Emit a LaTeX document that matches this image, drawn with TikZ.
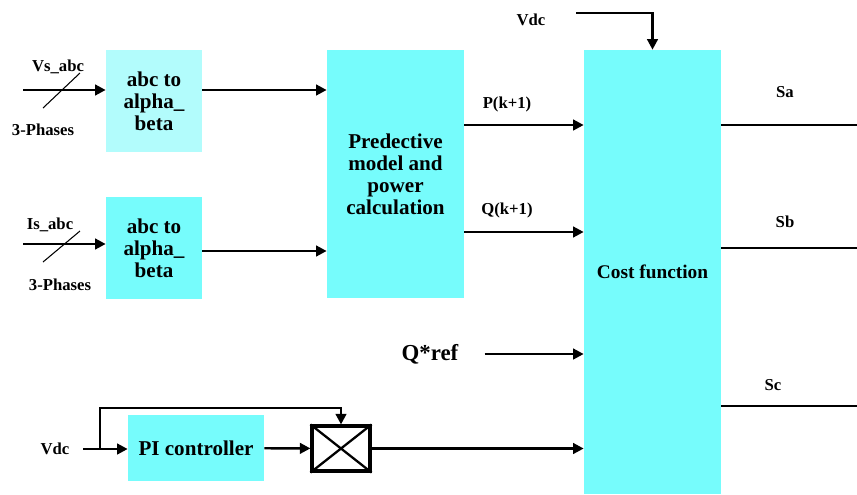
\documentclass[tikz,border=0pt]{standalone}
\usepackage{fontspec}
\setmainfont{Liberation Serif}
\usetikzlibrary{positioning, calc, arrows.meta}
\definecolor{cyanbox}{RGB}{118,252,252}
\definecolor{lightcyanbox}{RGB}{178,252,252}
\tikzset{
	blockbox/.style={rectangle, fill=cyanbox, align=center, font=\fontsize{12}{12.5}\selectfont\bfseries},
	lbl/.style={font=\fontsize{9.5}{11}\selectfont\bfseries},
	sig/.style={line width=1.4pt, -{Triangle[length=6pt,width=6pt]}},
	wire/.style={line width=1.4pt}
}

\begin{document}
\begin{tikzpicture}[x=0.02cm, y=-0.02cm]
      \useasboundingbox (0,0) rectangle (857,494);
      % blocks
      \node[blockbox, fill=lightcyanbox, minimum width=1.92cm, minimum height=2.06cm] (abcV) at (154,101) {abc to\\alpha\_\\beta};
      \node[blockbox, minimum width=1.92cm, minimum height=2.04cm] (abcI) at (154,248) {abc to\\alpha\_\\beta};
      \node[blockbox, minimum width=2.74cm, minimum height=4.96cm] (pred) at (395.5,174) {Predective\\model and\\power\\calculation};
      \node[blockbox, font=\fontsize{11}{12}\selectfont\bfseries, minimum width=2.74cm, minimum height=8.88cm] (cost) at (652.5,272) {Cost function};
      \node[blockbox, minimum width=2.72cm, minimum height=1.32cm] (pi) at (196,448) {PI controller};
      \node[draw, line width=1.8pt, minimum width=1.16cm, minimum height=0.9cm] (mult) at (341,448.5) {};
      \draw[line width=1.3pt] (mult.north west) -- (mult.south east) (mult.north east) -- (mult.south west);
      % labels
      \node[lbl] (vsLbl) at (58,67) {Vs\_abc};
      \node[lbl] (vsPh) at (43,130) {3-Phases};
      \node[lbl] (isLbl) at (50,225) {Is\_abc};
      \node[lbl] (isPh) at (60,285) {3-Phases};
      \node[lbl] (vdcTopLbl) at (531,20) {Vdc};
      \node[lbl] (pk) at (507,104) {P(k+1)};
      \node[lbl] (qk) at (507,210) {Q(k+1)};
      \node[lbl, font=\fontsize{13}{14}\selectfont\bfseries] (qref) at (430,354) {Q*ref};
      \node[lbl] (vdcLbl) at (55,449) {Vdc};
      \node[lbl] (saLbl) at (785,92) {Sa};
      \node[lbl] (sbLbl) at (785,222) {Sb};
      \node[lbl] (scLbl) at (773,385) {Sc};
      % free ends
      \coordinate (vsIn) at (23,90);
      \coordinate (isIn) at (23,244);
      \coordinate (vdcTop) at (576,13);
      \coordinate (vdcIn) at (83,449);
      \coordinate (br) at (100,449);
      \coordinate (saOut) at (857,125);
      \coordinate (sbOut) at (857,248);
      \coordinate (scOut) at (857,406);
      % inputs
      \draw[sig] (vsIn) -- (vsIn -| abcV.west);
      \draw[line width=0.6pt] ($(vsIn)+(20,18)$) -- ++(37,-35);
      \draw[sig] (isIn) -- (isIn -| abcI.west);
      \draw[line width=0.6pt] ($(isIn)+(20,18)$) -- ++(37,-31);
      \draw[sig] ([yshift=0.22cm]abcV.east) -- ([yshift=0.22cm]abcV.east -| pred.west);
      \draw[sig] ([yshift=-0.06cm]abcI.east) -- ([yshift=-0.06cm]abcI.east -| pred.west);
      \draw[sig] ([yshift=0.98cm]pred.east) -- ([yshift=0.98cm]pred.east -| cost.west);
      \draw[sig] ([yshift=-1.16cm]pred.east) -- ([yshift=-1.16cm]pred.east -| cost.west);
      \draw[sig] (vdcTop) -| (cost.north);
      \draw[sig] ([xshift=0.4cm]qref.east) -- (qref -| cost.west);
      % dc loop
      \draw[sig] (vdcIn) -- (vdcIn -| pi.west);
      \draw[sig] (br) -- ++(0,-41) -| (mult.north);
      \draw[sig] (pi) -- (mult);
      \draw[sig] (mult.east) -- (mult.east -| cost.west);
      % outputs
      \draw[wire] (saOut -| cost.east) -- (saOut);
      \draw[wire] (sbOut -| cost.east) -- (sbOut);
      \draw[wire] (scOut -| cost.east) -- (scOut);
    \end{tikzpicture}
\end{document}
